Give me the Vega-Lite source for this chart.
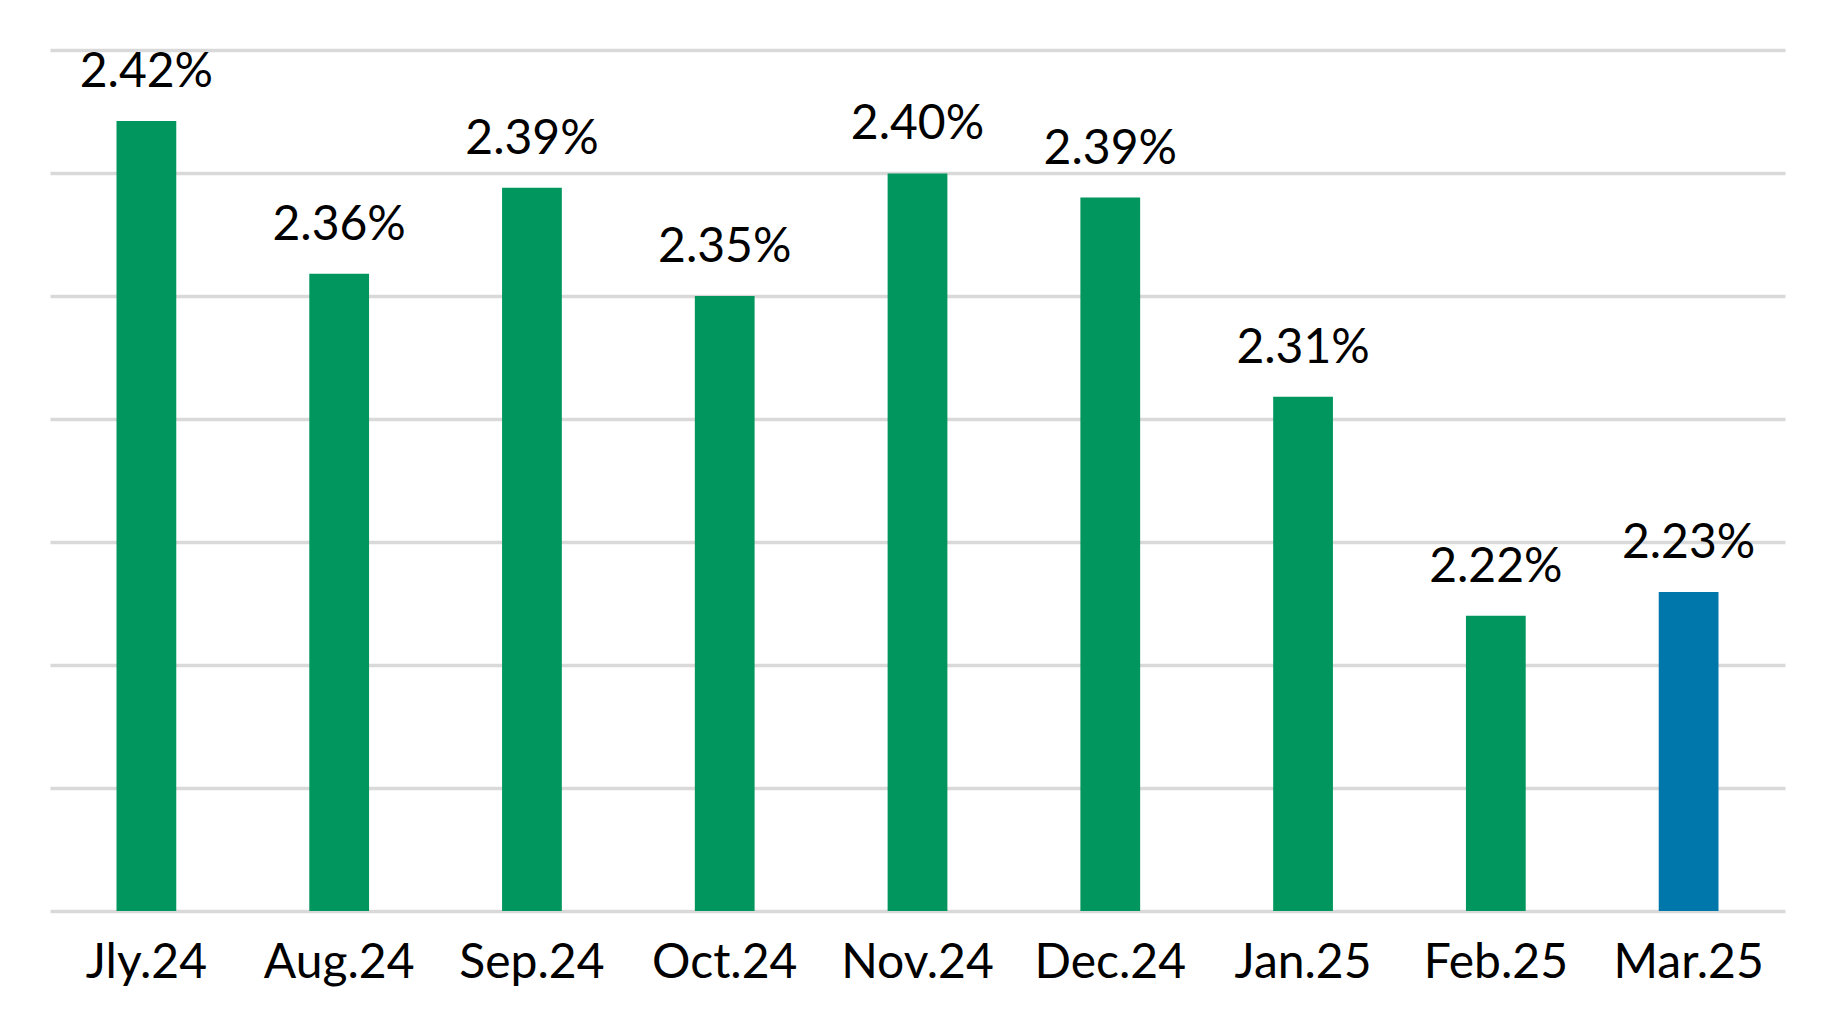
{
  "$schema": "https://vega.github.io/schema/vega-lite/v6.json",
  "width": 1735,
  "height": 861,
  "autosize": {"type": "none"},
  "padding": {"left": 50, "top": 50, "right": 42, "bottom": 118},
  "background": "white",
  "config": {"view": {"stroke": null}, "font": "Lato"},
  "data": {
    "values": [
      {"month": "Jly.24", "rate": 2.4211, "label": "2.42%", "period": "past"},
      {"month": "Aug.24", "rate": 2.359, "label": "2.36%", "period": "past"},
      {"month": "Sep.24", "rate": 2.394, "label": "2.39%", "period": "past"},
      {"month": "Oct.24", "rate": 2.35, "label": "2.35%", "period": "past"},
      {"month": "Nov.24", "rate": 2.3998, "label": "2.40%", "period": "past"},
      {"month": "Dec.24", "rate": 2.390, "label": "2.39%", "period": "past"},
      {"month": "Jan.25", "rate": 2.309, "label": "2.31%", "period": "past"},
      {"month": "Feb.25", "rate": 2.220, "label": "2.22%", "period": "past"},
      {"month": "Mar.25", "rate": 2.2297, "label": "2.23%", "period": "current"}
    ]
  },
  "encoding": {
    "x": {
      "field": "month", "type": "nominal", "sort": null,
      "scale": {"paddingInner": 0.69, "paddingOuter": 0.345},
      "axis": {
        "title": null, "domain": false, "ticks": false, "labelAngle": 0,
        "labelFontSize": 48, "labelColor": "#000000", "labelFont": "Lato",
        "labelPadding": 66, "labelBaseline": "alphabetic"
      }
    },
    "y": {
      "field": "rate", "type": "quantitative",
      "scale": {"domain": [2.10, 2.45], "zero": false, "nice": false},
      "axis": {
        "title": null, "domain": false, "ticks": false, "labels": false,
        "values": [2.10, 2.15, 2.20, 2.25, 2.30, 2.35, 2.40, 2.45],
        "grid": true, "gridColor": "#d9d9d9", "gridWidth": 3.5
      }
    }
  },
  "layer": [
    {
      "mark": {"type": "bar"},
      "encoding": {
        "y2": {"datum": 2.10},
        "color": {
          "field": "period", "type": "nominal",
          "scale": {"domain": ["past", "current"], "range": ["#00965E", "#0077AA"]},
          "legend": null
        }
      }
    },
    {
      "mark": {"type": "text", "baseline": "alphabetic", "dy": -34, "fontSize": 48, "color": "#000000", "font": "Lato"},
      "encoding": {"text": {"field": "label", "type": "nominal"}}
    }
  ]
}
